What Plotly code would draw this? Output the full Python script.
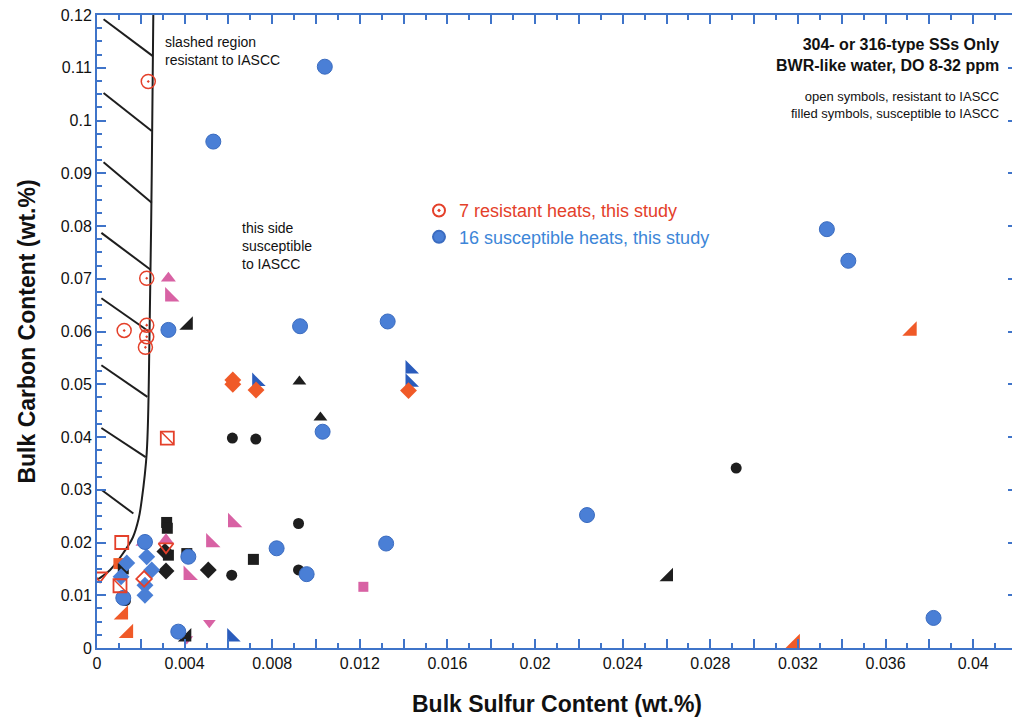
import plotly.graph_objects as go

# ---------------- data (sulfur wt.%, carbon wt.%) ----------------
res_this_x = [0.00234, 0.00227, 0.00124, 0.00227, 0.00227, 0.00221]
res_this_y = [0.1074, 0.0701, 0.0602, 0.0612, 0.0590, 0.0570]

sus_this_x = [0.0104, 0.00531, 0.03332, 0.0343, 0.00326, 0.00927, 0.01327, 0.0103,
              0.02237, 0.0132, 0.00219, 0.0082, 0.00417, 0.00957, 0.0012, 0.00371, 0.03819]
sus_this_y = [0.1102, 0.0960, 0.0794, 0.0734, 0.0603, 0.0610, 0.0619, 0.0410,
              0.0252, 0.0198, 0.0201, 0.0189, 0.0173, 0.0140, 0.0095, 0.0031, 0.0057]

blk_circ_x = [0.00618, 0.00725, 0.02918, 0.0092, 0.0092, 0.00615, 0.0013]
blk_circ_y = [0.0398, 0.0396, 0.0341, 0.0236, 0.0148, 0.0138, 0.0090]
blk_sq_x = [0.00318, 0.00321, 0.00326, 0.0041, 0.00714, 0.0012]
blk_sq_y = [0.0238, 0.0227, 0.0176, 0.0179, 0.0168, 0.0150]
blk_dia_x = [0.0031, 0.00315, 0.00508]
blk_dia_y = [0.0183, 0.0146, 0.0148]
blk_tri_x = [0.00924, 0.0102]
blk_tri_y = [0.0505, 0.0437]
blk_rt_x = [0.00417, 0.02609, 0.0041]
blk_rt_y = [0.0612, 0.0135, 0.0021]

org_dia_x = [0.0062, 0.0062, 0.00726, 0.01422]
org_dia_y = [0.0508, 0.0500, 0.0489, 0.0488]
org_rt_x = [0.0012, 0.00143, 0.03187, 0.0372]
org_rt_y = [0.0063, 0.0028, 0.0009, 0.0601]
org_sq_x = [0.0010]
org_sq_y = [0.0160]

pnk_tri_x = [0.00326, 0.00315, 0.0021]
pnk_tri_y = [0.0701, 0.0205, 0.0200]
pnk_rt_x = [0.00333, 0.0062, 0.0052, 0.00417]
pnk_rt_y = [0.0666, 0.0238, 0.0200, 0.0138]
pnk_dn_x = [0.00513, 0.0041]
pnk_dn_y = [0.0048, 0.0017]
pnk_sq_x = [0.01216]
pnk_sq_y = [0.0116]

blu_rt_x = [0.00729, 0.01429, 0.01429, 0.00615]
blu_rt_y = [0.0505, 0.0529, 0.0504, 0.0021]
blu_dia_x = [0.00136, 0.0011, 0.00227, 0.0025, 0.00219, 0.00219]
blu_dia_y = [0.0161, 0.0135, 0.0173, 0.0148, 0.0119, 0.0100]

red_sq_x = [0.00113]
red_sq_y = [0.0200]
red_sqx_x = [0.00105, 0.00321]
red_sqx_y = [0.0118, 0.0398]
red_dn_x = [0.00014, 0.00315]
red_dn_y = [0.0137, 0.0192]
red_dia_x = [0.00215]
red_dia_y = [0.0131]

# boundary of the "resistant" slashed region
bound_x = [0.00257, 0.0025, 0.0024, 0.00227, 0.00204, 0.0019, 0.00164, 0.0012, 0.0006, 0.00014, 0.0]
bound_y = [0.1200, 0.0900, 0.0600, 0.0370, 0.0280, 0.0245, 0.0210, 0.0180, 0.0148, 0.0133, 0.0130]
# hatch segments (start x, start y, end x, end y)
hatch_x0 = [0.0003, 0.0003, 0.0003, 0.0002, 0.0002, 0.0002, 0.0002, 0.0002]
hatch_y0 = [0.1192, 0.1052, 0.0921, 0.0787, 0.0663, 0.0536, 0.0417, 0.0300]
hatch_x1 = [0.00255, 0.0025, 0.0025, 0.00245, 0.0024, 0.0023, 0.00222, 0.00166]
hatch_y1 = [0.1122, 0.0980, 0.0844, 0.0717, 0.0599, 0.0476, 0.0362, 0.0255]

x_ticks = [i * 0.002 for i in range(22)]
x_ticktext = ["0", "", "0.004", "", "0.008", "", "0.012", "", "0.016", "", "0.02", "",
              "0.024", "", "0.028", "", "0.032", "", "0.036", "", "0.04", ""]
y_ticks = [i * 0.01 for i in range(13)]
y_ticktext = ["0", "0.01", "0.02", "0.03", "0.04", "0.05", "0.06", "0.07", "0.08",
              "0.09", "0.1", "0.11", "0.12"]

RED = "#e4402a"
BLUE = "#4a7fd6"
BLACK = "#1e1e1e"
ORANGE = "#f05a28"
PINK = "#d862a4"
DBLUE = "#2a5cbc"
AXIS = "#3f74c9"
FONT = "Liberation Sans, Arial, sans-serif"

fig = go.Figure()

# hatch + boundary
hx, hy = [], []
for a, b, c, d in zip(hatch_x0, hatch_y0, hatch_x1, hatch_y1):
    hx += [a, c, None]
    hy += [b, d, None]
fig.add_trace(go.Scatter(x=hx, y=hy, mode="lines", line=dict(color=BLACK, width=2),
                         showlegend=False, hoverinfo="skip"))
fig.add_trace(go.Scatter(x=bound_x, y=bound_y, mode="lines", line=dict(color=BLACK, width=2),
                         line_shape="spline", showlegend=False, hoverinfo="skip"))


def add(x, y, symbol, color, size, line_color=None, lw=0, name=None, legend=False, group=None):
    fig.add_trace(go.Scatter(
        x=x, y=y, mode="markers", name=name, showlegend=legend, legendgroup=group,
        marker=dict(symbol=symbol, color=color, size=size,
                    line=dict(color=line_color or color, width=lw))))


add(pnk_dn_x, pnk_dn_y, "triangle-down", PINK, 11)
add(org_sq_x, org_sq_y, "square", ORANGE, 11)
add(blk_circ_x, blk_circ_y, "circle", BLACK, 11)
add(blk_sq_x, blk_sq_y, "square", BLACK, 11)
add(blk_dia_x, blk_dia_y, "diamond", BLACK, 13)
add(blk_tri_x, blk_tri_y, "triangle-up", BLACK, 12)
add(blk_rt_x, blk_rt_y, "triangle-se", BLACK, 15)
add(pnk_tri_x, pnk_tri_y, "triangle-up", PINK, 13)
add(pnk_rt_x, pnk_rt_y, "triangle-sw", PINK, 16)
add(pnk_sq_x, pnk_sq_y, "square", PINK, 10)
add(blu_dia_x, blu_dia_y, "diamond", BLUE, 13)
add(blu_rt_x, blu_rt_y, "triangle-sw", DBLUE, 15)
add(sus_this_x, sus_this_y, "circle", BLUE, 15, line_color="#3b6cc0", lw=1,
    name="<span style='color:#3d86d8'>16 susceptible heats, this study</span>", legend=True, group="b")
add(org_dia_x, org_dia_y, "diamond", ORANGE, 13)
add(org_rt_x, org_rt_y, "triangle-se", ORANGE, 16)
add(red_sq_x, red_sq_y, "square-open", RED, 13, lw=1.8)
add(red_sqx_x, red_sqx_y, "square-open", RED, 13, lw=1.8)
add(red_sqx_x, red_sqx_y, "line-nw-open", RED, 13, lw=1.5)
add(red_dn_x, red_dn_y, "triangle-down-open", RED, 13, lw=1.8)
add(red_dia_x, red_dia_y, "diamond-open", RED, 12, lw=1.8)
add(res_this_x, res_this_y, "circle-open-dot", RED, 14, lw=1.5,
    name="<span style='color:#e4402a'>7 resistant heats, this study</span>", legend=True, group="a")

# annotation positions given in page pixels (plot area spans 97..1017 x 15..648)
annotations = [
    dict(x=163, y=51, text="slashed region<br>resistant to IASCC", align="left",
         xanchor="left", yanchor="middle", font=dict(size=14)),
    dict(x=240, y=246, text="this side<br>susceptible<br>to IASCC", align="left",
         xanchor="left", yanchor="middle", font=dict(size=14)),
    dict(x=1001, y=55, text="<b>304- or 316-type SSs Only<br>BWR-like water, DO 8-32 ppm</b>",
         align="right", xanchor="right", yanchor="middle", font=dict(size=16)),
    dict(x=1001, y=105, text="open symbols, resistant to IASCC<br>filled symbols, susceptible to IASCC",
         align="right", xanchor="right", yanchor="middle", font=dict(size=13)),
]
# page has an 8px body margin, so the figure is sized/offset to compensate
W, H = 1012, 716
L, R, T, B = 89, 3, 7, 76
PX0, PY0, PW, PH = 97, 15, 920, 633
for a in annotations:
    a["x"] = (a["x"] - PX0) / PW
    a["y"] = 1 - (a["y"] - PY0) / PH
    a["xref"] = "paper"
    a["yref"] = "paper"
    a["showarrow"] = False
    a["font"]["family"] = FONT
    a["font"]["color"] = "#111"

fig.update_layout(
    width=W, height=H,
    margin=dict(l=L, r=R, t=T, b=B, autoexpand=False),
    paper_bgcolor="white", plot_bgcolor="white",
    font=dict(family=FONT, color="#111"),
    annotations=annotations,
    showlegend=True,
    legend=dict(x=0.35, y=0.72, xanchor="left", yanchor="top", bgcolor="rgba(0,0,0,0)",
                traceorder="reversed",
                font=dict(size=18, family=FONT), tracegroupgap=11, itemsizing="constant"),
    xaxis=dict(range=[0, 0.042], tickmode="array", tickvals=x_ticks, ticktext=x_ticktext,
               ticks="inside", ticklen=9, tickwidth=1.5, tickcolor=AXIS, automargin=False,
               ticklabeloverflow="allow",
               showline=True, linecolor=AXIS, linewidth=2, mirror="ticks",
               showgrid=False, zeroline=False,
               tickfont=dict(size=16, color="#111"),
               minor=dict(dtick=0.001, ticks="inside", ticklen=5, tickcolor=AXIS, tickwidth=1.5, showgrid=False),
               title=dict(text="<b>Bulk Sulfur Content (wt.%)</b>", font=dict(size=23), standoff=25)),
    yaxis=dict(range=[0, 0.12], tickmode="array", tickvals=y_ticks, ticktext=y_ticktext,
               ticks="inside", ticklen=9, tickwidth=1.5, tickcolor=AXIS, automargin=False,
               ticklabeloverflow="allow",
               showline=True, linecolor=AXIS, linewidth=2, mirror="ticks",
               showgrid=False, zeroline=False,
               tickfont=dict(size=16, color="#111"),
               minor=dict(dtick=0.0025, ticks="inside", ticklen=5, tickcolor=AXIS, tickwidth=1.5, showgrid=False),
               title=dict(text="<b>Bulk Carbon Content (wt.%)</b>", font=dict(size=23), standoff=19)),
)

fig.write_html("out.html")
